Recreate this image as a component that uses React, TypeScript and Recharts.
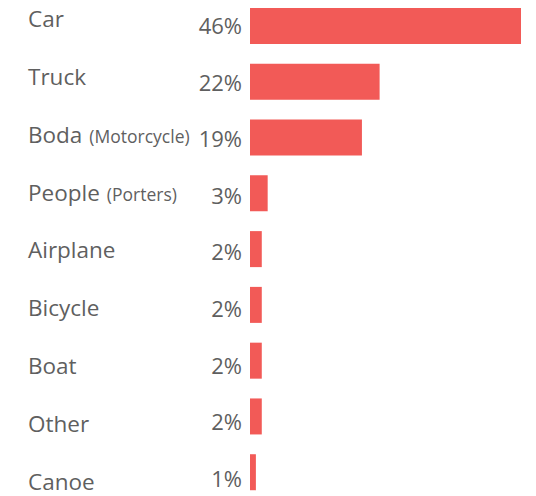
import { BarChart, Bar, XAxis, YAxis } from "recharts"

const categories = ["Car", "Truck", "Boda", "People", "Airplane", "Bicycle", "Boat", "Other", "Canoe"]
const notes = ["", "", "(Motorcycle)", "(Porters)", "", "", "", "", ""]
const shares = [46, 22, 19, 3, 2, 2, 2, 2, 1]

const data = categories.map((name, i) => ({ name, note: notes[i], share: shares[i] }))

const FONT = "'Open Sans', 'Noto Sans', sans-serif"
const TEXT = "#5f5f5f"

function CategoryTick(props: any) {
  const { y, payload, index } = props
  const row = data[index] ?? data.find((d) => d.name === payload.value)
  return (
    <g>
      <text x={28} y={y + 1 + 2.1 * index} fill={TEXT} fontSize={22.5} fontFamily={FONT}>
        {payload.value}
        {row && row.note ? (
          <tspan fontSize={17.5} dx={7}>{row.note}</tspan>
        ) : null}
      </text>
      <text x={242} y={y + 8 + 0.85 * index} fill={TEXT} fontSize={22} fontFamily={FONT} textAnchor="end">
        {row ? `${row.share}%` : ""}
      </text>
    </g>
  )
}

export default function App() {
  return (
    <div style={{ position: "absolute", left: 0, top: -2, width: 536, height: 502 }}>
      <BarChart
        width={536}
        height={502}
        data={data}
        layout="vertical"
        margin={{ top: 0, right: 15, bottom: 0, left: 0 }}
      >
        <XAxis type="number" domain={[0, 46]} hide />
        <YAxis
          type="category"
          dataKey="name"
          width={250}
          axisLine={false}
          tickLine={false}
          interval={0}
          tick={<CategoryTick />}
        />
        <Bar dataKey="share" fill="#f25a57" barSize={36} isAnimationActive={false} />
      </BarChart>
    </div>
  )
}
